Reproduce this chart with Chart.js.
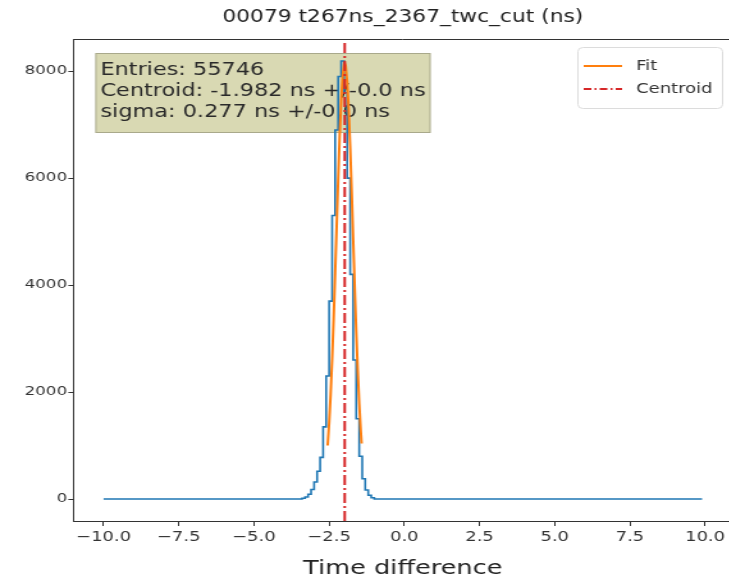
<!DOCTYPE html>
<html>
<head>
<meta charset="utf-8">
<script src="https://cdn.jsdelivr.net/npm/chart.js@4.4.1/dist/chart.umd.min.js"></script>
<style>
html,body{margin:0;padding:0;background:#fff;overflow:hidden;width:729px;height:583px;}
canvas{display:block;transform:scale(1.28,1);transform-origin:0 0;}
</style>
</head>
<body>
<canvas id="c" width="578" height="583"></canvas>
<script>
// ---- data ----
const chartTitle = '00079 t267ns_2367_twc_cut (ns)';
const xAxisTitle = 'Time difference';
const xTicks = [-10, -7.5, -5, -2.5, 0, 2.5, 5, 7.5, 10];
const yTicks = [0, 2000, 4000, 6000, 8000];

// histogram: bin left edges (ns) and counts
const histX = [-10.0, -3.4, -3.3, -3.2, -3.1, -3.0, -2.9, -2.8, -2.7, -2.6, -2.5, -2.4, -2.3, -2.2, -2.1, -2.0, -1.9, -1.8, -1.7, -1.6, -1.5, -1.4, -1.3, -1.2, -1.1, -1.0, -0.9, 9.9];
const histY = [0, 0, 15, 40, 90, 180, 320, 520, 780, 1350, 2300, 3700, 5300, 6900, 7900, 8190, 7600, 6000, 4200, 2600, 1500, 800, 380, 170, 70, 25, 0, 0];

// fitted curve
const fitX = [-2.55, -2.50, -2.45, -2.40, -2.35, -2.30, -2.25, -2.20, -2.15, -2.10, -2.05, -2.00, -1.982, -1.95, -1.90, -1.85, -1.80, -1.75, -1.70, -1.65, -1.60, -1.55, -1.50, -1.45, -1.42];
const fitY = [1000, 1420, 1960, 2610, 3370, 4220, 5100, 5980, 6780, 7440, 7910, 8130, 8150, 8100, 7800, 7280, 6570, 5740, 4850, 3970, 3150, 2420, 1790, 1290, 1040];

const centroid = -1.982;
const boxLines = ['Entries: 55746', 'Centroid: -1.982 ns +/-0.0 ns', 'sigma: 0.277 ns +/-0.0 ns'];
const legendLabels = ['Fit', 'Centroid'];

const X_MIN = -11.0, X_MAX = 10.9, Y_MIN = -410, Y_MAX = 8600;
const FONT = "'DejaVu Sans', sans-serif";

const toPts = (xs, ys) => xs.map((x, i) => ({x: x, y: ys[i]}));

const overlay = {
  id: 'overlay',
  beforeDatasetsDraw(chart) {
    const ctx = chart.ctx, a = chart.chartArea;
    ctx.save();
    ctx.font = '17.5px ' + FONT;
    const w = Math.max(...boxLines.map(s => ctx.measureText(s).width));
    const bx = a.left + 17, by = a.top + 14, pad = 4, lh = 21;
    const bw = w + pad * 2, bh = lh * boxLines.length + 17;
    ctx.fillStyle = '#d9d9b3';
    ctx.fillRect(bx, by, bw, bh);
    ctx.strokeStyle = 'rgba(0,0,0,0.22)';
    ctx.lineWidth = 1;
    ctx.strokeRect(bx + 0.5, by + 0.5, bw - 1, bh - 1);
    ctx.fillStyle = '#2a2a2a';
    ctx.textBaseline = 'middle';
    boxLines.forEach((s, i) => ctx.fillText(s, bx + pad, by + 17 + lh * i));
    ctx.restore();
  },
  afterDraw(chart) {
    const ctx = chart.ctx, a = chart.chartArea;
    ctx.save();
    // title centred over the plot area
    ctx.fillStyle = '#222';
    ctx.font = '17px ' + FONT;
    ctx.textAlign = 'center';
    ctx.textBaseline = 'middle';
    ctx.fillText(chartTitle, (a.left + a.right) / 2, 18);
    ctx.textAlign = 'left';
    // top spine
    ctx.strokeStyle = '#333';
    ctx.lineWidth = 1;
    ctx.beginPath();
    ctx.moveTo(a.left, Math.round(a.top) + 0.5);
    ctx.lineTo(a.right, Math.round(a.top) + 0.5);
    ctx.stroke();
    // legend
    const lx = 451, ly = 47, lw = 113, lhgt = 61;
    ctx.fillStyle = 'rgba(255,255,255,0.85)';
    ctx.strokeStyle = '#dcdcdc';
    ctx.beginPath();
    ctx.roundRect(lx + 0.5, ly + 0.5, lw, lhgt, 4);
    ctx.fill();
    ctx.stroke();
    const ds = [chart.data.datasets[1], chart.data.datasets[2]];
    ctx.font = '14px ' + FONT;
    ctx.textBaseline = 'middle';
    ds.forEach((d, i) => {
      const yy = ly + 19 + i * 23;
      ctx.strokeStyle = d.borderColor;
      ctx.lineWidth = 2;
      ctx.setLineDash(i === 1 ? [6, 2.5, 1.5, 2.5] : []);
      ctx.beginPath();
      ctx.moveTo(lx + 5, yy);
      ctx.lineTo(lx + 35, yy);
      ctx.stroke();
      ctx.setLineDash([]);
      ctx.fillStyle = '#333';
      ctx.fillText(legendLabels[i], lx + 46, yy);
    });
    ctx.restore();
  }
};

new Chart(document.getElementById('c'), {
  type: 'scatter',
  data: {
    datasets: [
      {label: 'Histogram', data: toPts(histX, histY), showLine: true, stepped: 'after',
       borderColor: '#1f77b4', borderWidth: 1.6, pointRadius: 0, order: 3},
      {label: legendLabels[0], data: toPts(fitX, fitY), showLine: true,
       borderColor: '#ff7f0e', borderWidth: 2, pointRadius: 0, order: 2},
      {label: legendLabels[1], data: [{x: centroid, y: Y_MIN}, {x: centroid, y: Y_MAX}], showLine: true,
       borderColor: '#d62728', borderWidth: 2, borderDash: [10, 3, 2, 3], pointRadius: 0, order: 1}
    ]
  },
  options: {
    responsive: false,
    animation: false,
    layout: {padding: {left: 0, right: 6, top: 39, bottom: 0}},
    plugins: {
      legend: {display: false},
      tooltip: {enabled: false},
      title: {display: false}
    },
    scales: {
      x: {
        type: 'linear', min: X_MIN, max: X_MAX,
        afterBuildTicks: s => { s.ticks = xTicks.map(v => ({value: v})); },
        afterFit: s => { s.height = 62; },
        ticks: {color: '#333', padding: 3, font: {family: FONT, size: 14},
                callback: v => (v < 0 ? '\u2212' : '') + Math.abs(v).toFixed(1)},
        grid: {display: true, drawOnChartArea: false, drawTicks: true, tickLength: 5, color: '#333'},
        border: {display: true, color: '#333', width: 1},
        title: {display: true, text: xAxisTitle, color: '#222',
                font: {family: FONT, size: 20}, padding: {top: 0, bottom: 2}}
      },
      y: {
        type: 'linear', min: Y_MIN, max: Y_MAX,
        afterBuildTicks: s => { s.ticks = yTicks.map(v => ({value: v})); },
        afterFit: s => { s.width = 57.4; },
        ticks: {color: '#333', padding: 1, font: {family: FONT, size: 13}, callback: v => String(v)},
        grid: {display: true, drawOnChartArea: false, drawTicks: true, tickLength: 4, color: '#333'},
        border: {display: true, color: '#333', width: 1}
      }
    }
  },
  plugins: [overlay]
});
</script>
</body>
</html>
